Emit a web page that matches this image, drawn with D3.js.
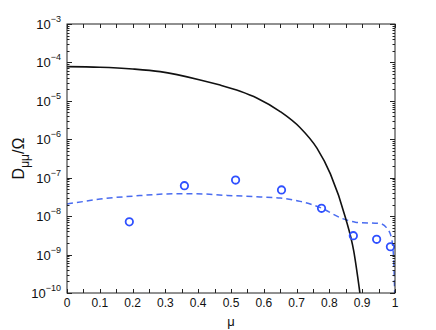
<!DOCTYPE html>
<html>
<head>
<meta charset="utf-8">
<script src="https://cdn.jsdelivr.net/npm/d3@7"></script>
<style>
  body { margin: 0; background: #fff; }
  svg { display: block; font-family: "Liberation Sans", Arial, sans-serif; }
</style>
</head>
<body>
<svg id="chart" width="436" height="330"></svg>
<script>
// black solid curve (mu, log10 D)
const solidMu = [0, 0.10, 0.20, 0.284, 0.406, 0.467, 0.528, 0.580, 0.650, 0.711, 0.762, 0.803, 0.849, 0.874, 0.893]
const solidLog = [-4.109, -4.125, -4.17, -4.239, -4.455, -4.590, -4.750, -4.930, -5.278, -5.700, -6.230, -6.900, -8.040, -8.900, -10.0]

// blue dashed curve
const dashMu = [0, 0.05, 0.101, 0.2, 0.304, 0.386, 0.488, 0.589, 0.650, 0.711, 0.773, 0.840, 0.879, 0.956, 0.974, 0.989, 0.996, 0.999]
const dashLog = [-7.683, -7.62, -7.553, -7.48, -7.423, -7.416, -7.460, -7.501, -7.527, -7.616, -7.779, -8.065, -8.156, -8.195, -8.299, -8.558, -9.13, -10.0]

// circles
const dotMu = [0.190, 0.358, 0.514, 0.654, 0.776, 0.873, 0.944, 0.986]
const dotD = [7.1e-9, 6.2e-8, 8.7e-8, 4.8e-8, 1.6e-8, 3.1e-9, 2.5e-9, 1.6e-9]

const xTicks = [0, 0.1, 0.2, 0.3, 0.4, 0.5, 0.6, 0.7, 0.8, 0.9, 1]
const yExps = [-10, -9, -8, -7, -6, -5, -4, -3]

const margin = {left: 67, right: 41, top: 24, bottom: 37}
const W = 436, H = 330
const svg = d3.select('#chart')

const x = d3.scaleLinear().domain([0, 1]).range([margin.left, W - margin.right])
const y = d3.scaleLog().domain([1e-10, 1e-3]).range([H - margin.bottom, margin.top])

const plot = svg.append('g')
svg.append('clipPath').attr('id', 'clip').append('rect')
    .attr('x', x(0)).attr('y', y(1e-3))
    .attr('width', x(1) - x(0)).attr('height', y(1e-10) - y(1e-3))

let line = d3.line().x(d => x(d[0])).y(d => y(d[1])).curve(d3.curveMonotoneX)

let solid = solidMu.map((m, i) => [m, Math.pow(10, solidLog[i])])
let dashed = dashMu.map((m, i) => [m, Math.pow(10, dashLog[i])])

plot.append('path').datum(dashed)
    .attr('d', line)
    .attr('clip-path', 'url(#clip)')
    .attr('fill', 'none')
    .attr('stroke', '#4a6cf0')
    .attr('stroke-width', 1.5)
    .attr('stroke-dasharray', '6,4')

plot.append('path').datum(solid)
    .attr('d', line)
    .attr('clip-path', 'url(#clip)')
    .attr('fill', 'none')
    .attr('stroke', '#111')
    .attr('stroke-width', 1.6)

plot.selectAll('circle').data(dotMu).enter().append('circle')
    .attr('cx', d => x(d))
    .attr('cy', (d, i) => y(dotD[i]))
    .attr('r', 3.7)
    .attr('fill', 'none')
    .attr('stroke', '#2f50ff')
    .attr('stroke-width', 1.8)

// axes box
const axisG = svg.append('g')
axisG.append('rect')
    .attr('x', x(0)).attr('y', y(1e-3))
    .attr('width', x(1) - x(0)).attr('height', y(1e-10) - y(1e-3))
    .attr('fill', 'none').attr('stroke', '#222').attr('stroke-width', 1)

// x ticks every 0.05, inward, bottom and top
let xt = d3.range(0, 1.0001, 0.05)
xt.forEach(t => {
    let px = Math.round(x(t)) + 0.5
    axisG.append('line').attr('x1', px).attr('x2', px)
        .attr('y1', y(1e-10)).attr('y2', y(1e-10) - 4)
        .attr('stroke', '#222')
    axisG.append('line').attr('x1', px).attr('x2', px)
        .attr('y1', y(1e-3)).attr('y2', y(1e-3) + 4)
        .attr('stroke', '#222')
})
axisG.selectAll('text.xl').data(xTicks).enter().append('text')
    .attr('class', 'xl')
    .attr('x', d => x(d)).attr('y', y(1e-10) + 14)
    .attr('text-anchor', 'middle')
    .attr('font-size', 12)
    .attr('fill', '#111')
    .text(d => d === 0 || d === 1 ? String(d) : d.toFixed(1))

// y ticks, major + minor, inward, left and right
yExps.forEach(e => {
    for (let k = 1; k <= 9; k++) {
        let v = k * Math.pow(10, e)
        if (v > 1e-3 + 1e-12) break
        let py = Math.round(y(v)) + 0.5
        let len = k === 1 ? 5 : 2.5
        axisG.append('line').attr('x1', x(0)).attr('x2', x(0) + len)
            .attr('y1', py).attr('y2', py).attr('stroke', '#222')
        axisG.append('line').attr('x1', x(1)).attr('x2', x(1) - len)
            .attr('y1', py).attr('y2', py).attr('stroke', '#222')
    }
})
let yl = axisG.selectAll('text.yl').data(yExps).enter().append('text')
    .attr('class', 'yl')
    .attr('x', x(0) - 6).attr('y', d => y(Math.pow(10, d)) + 5)
    .attr('text-anchor', 'end')
    .attr('fill', '#111')
yl.append('tspan').attr('font-size', 13).text('10')
yl.append('tspan').attr('font-size', 9).attr('dy', -7).text(d => '\u2212' + (-d))

// axis labels
svg.append('text')
    .attr('x', (x(0) + x(1)) / 2).attr('y', 326)
    .attr('text-anchor', 'middle')
    .attr('font-size', 13)
    .attr('fill', '#111')
    .text('\u03bc')

let ylab = svg.append('text')
    .attr('transform', 'translate(24,' + ((y(1e-3) + y(1e-10)) / 2) + ') rotate(-90)')
    .attr('text-anchor', 'middle')
    .attr('fill', '#111')
ylab.append('tspan').attr('font-size', 16).text('D')
ylab.append('tspan').attr('font-size', 12).attr('dy', 5).text('\u03bc\u03bc')
ylab.append('tspan').attr('font-size', 16).attr('dy', -5).text('/\u03a9')
</script>
</body>
</html>
